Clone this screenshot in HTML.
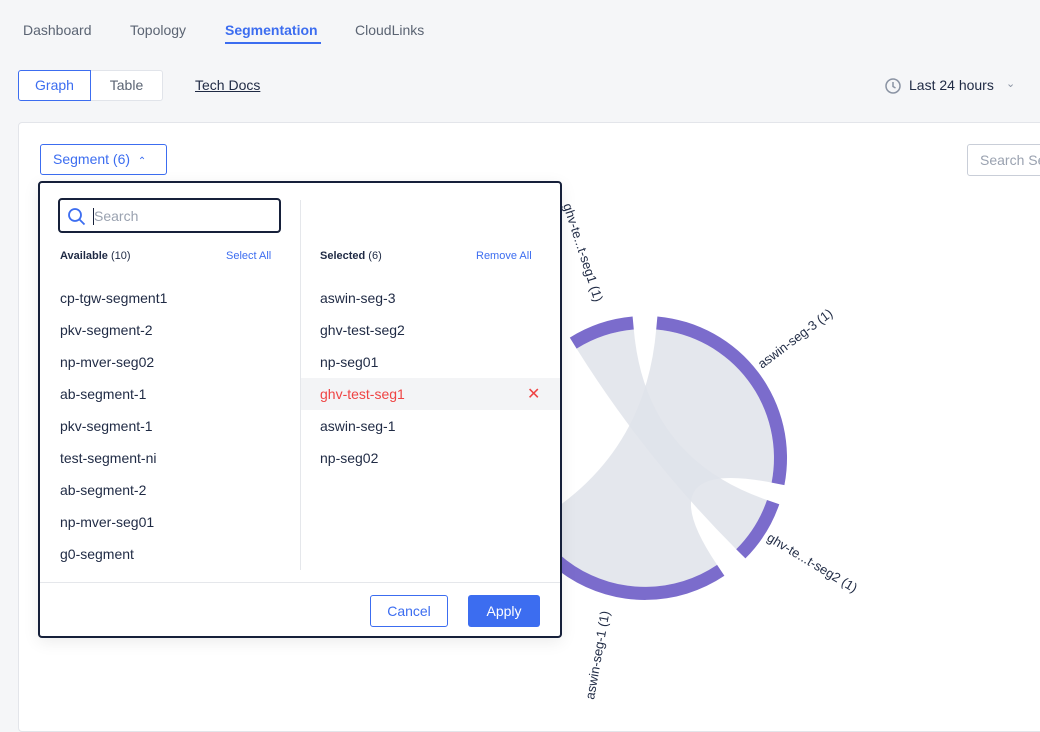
<!DOCTYPE html>
<html><head><style>
*{box-sizing:border-box;margin:0;padding:0}
body{width:1040px;height:723px;background:#f5f6f8;font-family:"Liberation Sans",sans-serif;position:relative;overflow:hidden;color:#1f2937}
.a{position:absolute;white-space:nowrap}
.tab{top:22px;font-size:14px;color:#5b6473}
.li{font-size:14px;color:#1f2a44;left:60px}
.ri{font-size:14px;color:#1f2a44;left:320px}
</style></head><body>
<div class="a tab" style="left:23px">Dashboard</div>
<div class="a tab" style="left:130px">Topology</div>
<div class="a tab" style="left:225px;color:#3c6df0;font-weight:bold">Segmentation</div>
<div class="a" style="left:225px;top:42px;width:96px;height:2px;background:#3c6df0"></div>
<div class="a tab" style="left:355px">CloudLinks</div>

<div class="a" style="left:18px;top:70px;width:73px;height:31px;border:1px solid #3c6df0;background:#fff;border-radius:3px 0 0 3px;color:#3c6df0;font-size:14px;line-height:29px;text-align:center;z-index:2">Graph</div>
<div class="a" style="left:90px;top:70px;width:73px;height:31px;border:1px solid #e1e4ea;background:#fff;border-radius:0 3px 3px 0;color:#5b6473;font-size:14px;line-height:29px;text-align:center">Table</div>
<div class="a" style="left:195px;top:77px;font-size:14px;color:#1f2a44;text-decoration:underline">Tech Docs</div>
<svg class="a" style="left:884px;top:77px" width="18" height="18"><circle cx="9" cy="9" r="7" fill="none" stroke="#8a93a3" stroke-width="1.5"/><path d="M9 5v4.5l2.5 1.5" fill="none" stroke="#8a93a3" stroke-width="1.5"/></svg>
<div class="a" style="left:909px;top:77px;font-size:14px;color:#1f2a44">Last 24 hours</div>
<div class="a" style="left:1006px;top:77px;font-size:11px;color:#8a93a3">&#8964;</div>

<div class="a" style="left:18px;top:122px;width:1030px;height:610px;background:#fff;border:1px solid #e3e5ea;border-radius:4px"></div>
<div class="a" style="left:40px;top:144px;width:127px;height:31px;border:1px solid #3c6df0;border-radius:3px;color:#3c6df0;font-size:14px;line-height:29px;padding-left:12px">Segment (6) &nbsp;<span style="font-size:10px">&#8963;</span></div>
<div class="a" style="left:967px;top:144px;width:100px;height:32px;border:1px solid #c9ced8;border-radius:3px;color:#9aa2b0;font-size:14px;line-height:30px;padding-left:12px">Search Se</div>

<svg class="a" style="left:0;top:0" width="1040" height="723">
<g fill="#dfe3ea" fill-opacity="0.85">
<path d="M656.2,329.5 A129,129 0 0 1 771.6,482.6 Q645,458 717.1,564.9 A129,129 0 0 1 533.3,522.5 Q645,458 656.2,329.5Z"/>
<path d="M576.6,348.6 A129,129 0 0 1 633.8,329.5 Q645,458 767.0,500.0 A129,129 0 0 1 736.2,549.2 Q645,458 576.6,348.6Z"/>
</g>
<g fill="#7b6ccc">
<path d="M657.4,316.5 A142,142 0 0 1 784.4,485.1 L771.6,482.6 A129,129 0 0 0 656.2,329.5Z"/>
<path d="M779.3,504.2 A142,142 0 0 1 745.4,558.4 L736.2,549.2 A129,129 0 0 0 767.0,500.0Z"/>
<path d="M724.4,575.7 A142,142 0 0 1 505.2,433.3 L518.0,435.6 A129,129 0 0 0 717.1,564.9Z"/>
<path d="M569.8,337.6 A142,142 0 0 1 632.6,316.5 L633.8,329.5 A129,129 0 0 0 576.6,348.6Z"/>
</g>
<g font-size="13" fill="#1f2a44" font-family="Liberation Sans,sans-serif">
<text transform="translate(762,369) rotate(-37)">aswin-seg-3 (1)</text>
<text transform="translate(766,540) rotate(31)">ghv-te...t-seg2 (1)</text>
<text transform="translate(594,700) rotate(-80)">aswin-seg-1 (1)</text>
<text transform="translate(563,205) rotate(72)">ghv-te...t-seg1 (1)</text>
</g>
</svg>

<div class="a" style="left:38px;top:181px;width:524px;height:457px;background:#fff;border:2px solid #16203a;border-radius:4px;box-shadow:0 4px 16px rgba(0,0,0,.08)"></div>
<div class="a" style="left:58px;top:198px;width:223px;height:35px;border:2px solid #16203a;border-radius:4px"></div>
<svg class="a" style="left:67px;top:207px" width="20" height="20"><circle cx="8" cy="8" r="6" fill="none" stroke="#3c6df0" stroke-width="1.8"/><path d="M12.5 12.5l5 5" stroke="#3c6df0" stroke-width="1.8"/></svg>
<div class="a" style="left:94px;top:208px;font-size:14px;color:#9aa2b0">Search</div>
<div class="a" style="left:93px;top:208px;width:1px;height:17px;background:#16203a"></div>
<div class="a" style="left:300px;top:200px;width:1px;height:370px;background:#e5e7eb"></div>
<div class="a" style="left:60px;top:250px;font-size:11px;color:#1f2a44"><b>Available</b> (10)</div>
<div class="a" style="left:226px;top:250px;font-size:11px;color:#3c6df0">Select All</div>
<div class="a" style="left:320px;top:250px;font-size:11px;color:#1f2a44"><b>Selected</b> (6)</div>
<div class="a" style="left:476px;top:250px;font-size:11px;color:#3c6df0">Remove All</div>
<div class="a li" style="top:290px">cp-tgw-segment1</div>
<div class="a li" style="top:322px">pkv-segment-2</div>
<div class="a li" style="top:354px">np-mver-seg02</div>
<div class="a li" style="top:386px">ab-segment-1</div>
<div class="a li" style="top:418px">pkv-segment-1</div>
<div class="a li" style="top:450px">test-segment-ni</div>
<div class="a li" style="top:482px">ab-segment-2</div>
<div class="a li" style="top:514px">np-mver-seg01</div>
<div class="a li" style="top:546px">g0-segment</div>
<div class="a" style="left:301px;top:378px;width:259px;height:32px;background:#f3f4f6"></div>
<div class="a ri" style="top:290px">aswin-seg-3</div>
<div class="a ri" style="top:322px">ghv-test-seg2</div>
<div class="a ri" style="top:354px">np-seg01</div>
<div class="a ri" style="top:386px;color:#ef4444">ghv-test-seg1</div>
<div class="a" style="left:527px;top:384px;font-size:16px;color:#ef4444">&#10005;</div>
<div class="a ri" style="top:418px">aswin-seg-1</div>
<div class="a ri" style="top:450px">np-seg02</div>
<div class="a" style="left:40px;top:582px;width:520px;height:1px;background:#e5e7eb"></div>
<div class="a" style="left:370px;top:595px;width:78px;height:32px;border:1px solid #3c6df0;border-radius:3px;color:#3c6df0;font-size:14px;line-height:30px;text-align:center">Cancel</div>
<div class="a" style="left:468px;top:595px;width:72px;height:32px;background:#3c6df0;border-radius:3px;color:#fff;font-size:14px;line-height:32px;text-align:center">Apply</div>
</body></html>
